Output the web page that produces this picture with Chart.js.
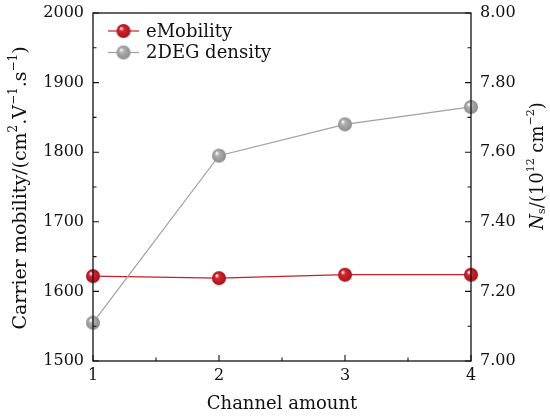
<!DOCTYPE html>
<html>
<head>
<meta charset="utf-8">
<script src="https://cdn.jsdelivr.net/npm/chart.js@4.4.0/dist/chart.umd.min.js"></script>
<style>
  html, body { margin: 0; padding: 0; background: #fff; }
  #wrap { width: 550px; height: 419px; }
</style>
</head>
<body>
<div id="wrap"><canvas id="myChart" width="550" height="419"></canvas></div>
<script>
// values
const channels = [1, 2, 3, 4];
const mobility = [1622, 1619, 1624, 1624];     // cm2/(V.s), left axis
const density = [7.11, 7.59, 7.68, 7.73];      // 10^12 cm^-2, right axis
const seriesNames = ['eMobility', '2DEG density'];

const serif = '"DejaVu Serif", "Liberation Serif", serif';
const RED = '#c8202b';
const GREY = '#a0a0a0';

function makeBall(r, base, dark) {
    const c = document.createElement('canvas');
    c.width = c.height = r * 2 + 2;
    const g = c.getContext('2d');
    const cx = r + 1, cy = r + 1;
    const grad = g.createRadialGradient(cx - r * 0.35, cy - r * 0.4, r * 0.05, cx, cy, r);
    grad.addColorStop(0, '#ffffff');
    grad.addColorStop(0.3, base);
    grad.addColorStop(1, dark);
    g.fillStyle = grad;
    g.beginPath();
    g.arc(cx, cy, r, 0, Math.PI * 2);
    g.fill();
    return c;
}

const redBall = makeBall(7, '#d8252f', '#a8121b');
const greyBall = makeBall(7, '#b0b0b0', '#8c8c8c');

function drawRich(ctx, segs, cx, cy, angle) {
    ctx.save();
    ctx.translate(cx, cy);
    ctx.rotate(angle);
    let total = 0;
    segs.forEach(s => { ctx.font = s.font; total += ctx.measureText(s.t).width; });
    let x = -total / 2;
    ctx.fillStyle = '#111';
    ctx.textBaseline = 'middle';
    ctx.textAlign = 'left';
    segs.forEach(s => {
        ctx.font = s.font;
        ctx.fillText(s.t, x, s.dy || 0);
        x += ctx.measureText(s.t).width;
    });
    ctx.restore();
}

const framePlugin = {
    id: 'frame',
    afterDraw(chart) {
        const ctx = chart.ctx;
        const a = chart.chartArea;
        const xs = chart.scales.x, yl = chart.scales.y, yr = chart.scales.y1;
        ctx.save();
        ctx.strokeStyle = '#111';
        ctx.lineWidth = 1.3;
        ctx.strokeRect(a.left, a.top, a.right - a.left, a.bottom - a.top);

        ctx.lineWidth = 1.1;
        ctx.beginPath();
        // x ticks, inward
        for (let v = 1; v <= 4.001; v += 0.5) {
            const px = xs.getPixelForValue(v);
            const len = Number.isInteger(v) ? 6 : 3.5;
            ctx.moveTo(px, a.bottom); ctx.lineTo(px, a.bottom - len);
        }
        // left ticks
        for (let v = 1500; v <= 2000; v += 50) {
            const py = yl.getPixelForValue(v);
            const len = v % 100 === 0 ? 6 : 3.5;
            ctx.moveTo(a.left, py); ctx.lineTo(a.left + len, py);
        }
        // right ticks
        for (let i = 0; i <= 10; i++) {
            const py = yr.getPixelForValue(7 + i * 0.1);
            const len = i % 2 === 0 ? 6 : 3.5;
            ctx.moveTo(a.right, py); ctx.lineTo(a.right - len, py);
        }
        ctx.stroke();

        // legend
        const rows = [[seriesNames[0], RED, redBall], [seriesNames[1], GREY, greyBall]];
        rows.forEach((row, i) => {
            const y = 31 + i * 21.5;
            ctx.strokeStyle = row[1];
            ctx.lineWidth = 1.2;
            ctx.beginPath();
            ctx.moveTo(108, y); ctx.lineTo(139, y);
            ctx.stroke();
            ctx.drawImage(row[2], 123.5 - row[2].width / 2, y - row[2].height / 2);
            ctx.fillStyle = '#111';
            ctx.font = '18px ' + serif;
            ctx.textBaseline = 'middle';
            ctx.fillText(row[0], 146, y + 1);
        });

        // axis titles
        const f = '18px ' + serif, fs = '11px ' + serif;
        const fl = '19px ' + serif, fls = '12px ' + serif;
        drawRich(ctx, [
            { t: 'Carrier mobility/(cm', font: fl },
            { t: '2', font: fls, dy: -7 },
            { t: '.V', font: fl },
            { t: '\u22121', font: fls, dy: -7 },
            { t: '.s', font: fl },
            { t: '\u22121', font: fls, dy: -7 },
            { t: ')', font: fl }
        ], 21, 188, -Math.PI / 2);
        drawRich(ctx, [
            { t: 'N', font: 'italic ' + f },
            { t: 's', font: fs, dy: 4 },
            { t: '/(10', font: f },
            { t: '12', font: fs, dy: -7 },
            { t: ' cm', font: f },
            { t: '\u22122', font: fs, dy: -7 },
            { t: ')', font: f }
        ], 538, 166, -Math.PI / 2);
        drawRich(ctx, [{ t: 'Channel amount', font: f }], 282, 404, 0);
        ctx.restore();
    }
};

function noPad(s) {
    s.paddingTop = 0; s.paddingBottom = 0;
    s.paddingLeft = 0; s.paddingRight = 0;
}

const ctx = document.getElementById('myChart');

new Chart(ctx, {
    type: 'line',
    data: {
        datasets: [{
            label: seriesNames[1],
            data: channels.map((c, i) => ({ x: c, y: density[i] })),
            yAxisID: 'y1',
            borderColor: GREY,
            borderWidth: 1.2,
            pointStyle: greyBall,
            clip: false,
            tension: 0
        }, {
            label: seriesNames[0],
            data: channels.map((c, i) => ({ x: c, y: mobility[i] })),
            yAxisID: 'y',
            borderColor: RED,
            borderWidth: 1.3,
            pointStyle: redBall,
            clip: false,
            tension: 0
        }]
    },
    options: {
        responsive: false,
        animation: false,
        layout: { padding: { top: 13, left: 0, right: 0, bottom: 0 } },
        plugins: { legend: { display: false }, tooltip: { enabled: false } },
        scales: {
            x: {
                type: 'linear', min: 1, max: 4,
                grid: { display: false, drawTicks: false },
                border: { display: false },
                ticks: { stepSize: 1, padding: 5, color: '#111', font: { family: serif, size: 16 } },
                afterFit(s) { s.height = 58; noPad(s); }
            },
            y: {
                position: 'left', min: 1500, max: 2000,
                grid: { display: false, drawTicks: false },
                border: { display: false },
                ticks: { stepSize: 100, padding: 9, color: '#111', font: { family: serif, size: 16 },
                    callback: v => String(v) },
                afterFit(s) { s.width = 93; noPad(s); }
            },
            y1: {
                position: 'right', min: 7, max: 8,
                grid: { display: false, drawTicks: false },
                border: { display: false },
                ticks: { stepSize: 0.2, padding: 9, color: '#111', font: { family: serif, size: 16 },
                    callback: v => v.toFixed(2) },
                afterFit(s) { s.width = 79; noPad(s); }
            }
        }
    },
    plugins: [framePlugin]
});
</script>
</body>
</html>
